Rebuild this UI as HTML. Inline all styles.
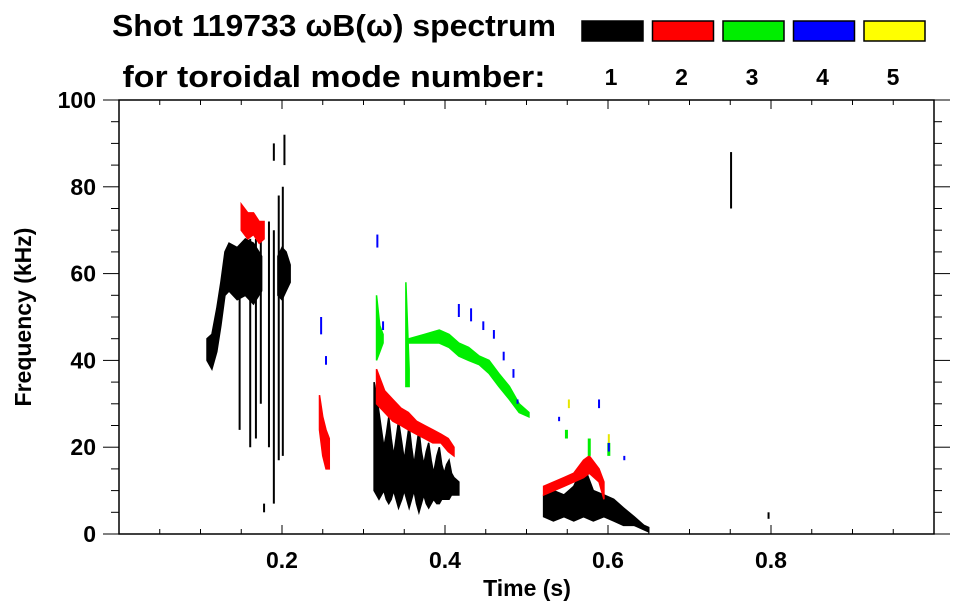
<!DOCTYPE html>
<html><head><meta charset="utf-8">
<style>
html,body{margin:0;padding:0;background:#fff;}
svg{display:block;font-family:"Liberation Sans",sans-serif;font-weight:bold;}
</style></head>
<body>
<svg id="chart" width="963" height="615" viewBox="0 0 963 615" xmlns="http://www.w3.org/2000/svg">
<text x="334" y="36" font-size="31" text-anchor="middle" textLength="444" lengthAdjust="spacingAndGlyphs">Shot 119733 ωB(ω) spectrum</text>
<text x="334" y="87" font-size="31" text-anchor="middle" textLength="423" lengthAdjust="spacingAndGlyphs">for toroidal mode number:</text>
<g id="legend"></g>
<g id="marks"></g>
<g id="axes"></g>
<text x="527" y="596" font-size="23" text-anchor="middle">Time (s)</text>
<text transform="translate(31,317) rotate(-90)" font-size="23" text-anchor="middle">Frequency (kHz)</text>
</svg>
<script>
// ---- data ----
const modeNumbers = [1,2,3,4,5];
const modeColors = ["#000000","#ff0000","#00ee00","#0000ff","#ffff00"];
const xTicks = [0.2,0.4,0.6,0.8];
const yTicks = [0,20,40,60,80,100];
// ribbons: time, low freq, high freq (null = break between clusters)
const m1T  = [0.108,0.114,0.120,0.125,0.130,0.135,0.145,0.155,0.165,0.175,null,0.195,0.200,0.205,0.210,null,
              0.313,0.316,0.319,0.322,0.325,0.328,0.331,0.334,0.337,0.340,0.343,0.347,0.350,0.353,0.356,0.359,0.362,0.365,0.368,0.371,0.374,0.377,0.380,0.383,0.386,0.390,0.393,0.396,0.399,0.402,0.405,0.408,0.411,0.417,null,
              0.521,0.533,0.546,0.558,0.570,0.582,0.595,0.607,0.619,0.632,0.644,0.650];
const m1Lo = [40,38,42,48,55,56,54,55,53,56,null,55,54,56,58,null,
              10,9,8,9,10,8,7,8,10,8,6,8,10,8,6,8,10,7,5,7,9,7,6,7,8,7,7,8,8,8,8,9,9,9,null,
              4,3,4,3,4,3,4,3,2,2,1,0.5];
const m1Hi = [45,46,52,58,65,67,66,68,67,64,null,64,66,65,62,null,
              35,32,28,24,20,23,27,22,18,22,26,21,17,21,25,20,16,20,24,19,16,19,21,17,14,18,20,16,14,16,17,14,13,12,null,
              9,10,9,11,16,10,9,8,6,4,2,1.5];
// thin streaks for mode 1
const s1T  = [0.148,0.161,0.168,0.174,0.184,0.190,0.196,0.201,0.203,0.190,0.178,0.751,0.797];
const s1Lo = [24,20,22,30,20,7,17,18,85,86,5,75,3.5];
const s1Hi = [65,68,68,72,72,70,78,80,92,90,7,88,5];
const m2T  = [0.150,0.158,0.165,0.172,0.178,null,0.246,0.250,0.254,0.258,null,
              0.316,0.326,0.336,0.346,0.355,0.365,0.375,0.385,0.395,0.404,0.411,null,
              0.521,0.546,0.558,0.570,0.577,0.589,0.595];
const m2Lo = [70,68,69,67,68,null,24,18,15,15,null,30,28,26,25,24,23,22,21,21,19,18,null,9,11,12,13,14,12,8];
const m2Hi = [76,74,74,72,72,null,32,27,24,22,null,38,33,31,29,28,26,25,24,23,22,20,null,11,13,14,17,18,15,12];
const m3T  = [0.352,0.356,null,0.316,0.320,0.324,null,0.356,0.375,0.393,0.405,0.417,0.429,0.442,0.454,0.466,0.479,0.491,0.503,null,0.549,null,0.577,null,0.601];
const m3Lo = [34,34,null,40,42,44,null,44,44,44,43,41,40,39,37,34,31,28,27,null,22,null,18,null,18];
const m3Hi = [58,38,null,55,48,46,null,45,46,47,46,44,43,41,40,37,34,30,28,null,24,null,22,null,21];
const m4T  = [0.248,0.254,0.317,0.324,0.417,0.432,0.447,0.460,0.472,0.484,0.489,0.540,0.589,0.601,0.620];
const m4Lo = [46,39,66,47,50,49,47,45,40,36,30,26,29,19,17];
const m4Hi = [50,41,69,49,53,52,49,47,42,38,31,27,31,21,18];
const m5T  = [0.552,0.601];
const m5Lo = [29,21];
const m5Hi = [31,23];

// ---- scales ----
const X0=119, X1=934, Y0=534, Y1=100;
const xs = t => X0 + (t-0)/(1.0-0)*(X1-X0);
const ys = f => Y0 - (f-0)/(100-0)*(Y0-Y1);
const NS="http://www.w3.org/2000/svg";
const marks=document.getElementById('marks');
const axes=document.getElementById('axes');
const legend=document.getElementById('legend');
function mk(tag,attrs,parent){const e=document.createElementNS(NS,tag);for(const k in attrs)e.setAttribute(k,attrs[k]);parent.appendChild(e);return e;}

function drawRibbons(T,Lo,Hi,color,mode){
  let seg=[];
  const flush=()=>{
    if(seg.length===0)return;
    if(seg.length===1){
      const i=seg[0];
      const r=mk('rect',{x:xs(T[i])-1.5,y:ys(Hi[i]),width:3,height:Math.max(1,ys(Lo[i])-ys(Hi[i])),fill:color},marks);
      
      
    } else {
      const top=seg.map(i=>xs(T[i])+','+ys(Hi[i]));
      const bot=seg.slice().reverse().map(i=>xs(T[i])+','+ys(Lo[i]));
      const p=mk('polygon',{points:top.concat(bot).join(' '),fill:color,stroke:color,'stroke-width':1.5},marks);
      
      
    }
    seg=[];
  };
  for(let i=0;i<T.length;i++){ if(T[i]===null){flush();} else seg.push(i); }
  flush();
}
function drawStreaks(T,Lo,Hi,color,mode,w){
  for(let i=0;i<T.length;i++){
    const l=mk('line',{x1:xs(T[i]),x2:xs(T[i]),y1:ys(Lo[i]),y2:ys(Hi[i]),stroke:color,'stroke-width':w},marks);
    
    
  }
}
drawRibbons(m1T,m1Lo,m1Hi,modeColors[0],1);
drawStreaks(s1T,s1Lo,s1Hi,modeColors[0],1,2);
drawRibbons(m2T,m2Lo,m2Hi,modeColors[1],2);
drawRibbons(m3T,m3Lo,m3Hi,modeColors[2],3);
drawStreaks(m4T,m4Lo,m4Hi,modeColors[3],4,2);
drawStreaks(m5T,m5Lo,m5Hi,"#e6e600",5,2);

// ---- axes ----
const frame=mk('rect',{x:X0,y:Y1,width:X1-X0,height:Y0-Y1,fill:'none',stroke:'#000','stroke-width':1.5},axes);


for(let k=1;k<20;k++){
  const t=k*0.05, x=xs(t), major=(k%4===0);
  const len=major?9:5;
  mk('line',{x1:x,x2:x,y1:Y0,y2:Y0-len,stroke:'#000','stroke-width':1},axes);
  mk('line',{x1:x,x2:x,y1:Y1,y2:Y1+len,stroke:'#000','stroke-width':1},axes);
}
for(let k=0;k<=20;k++){
  const f=k*5, y=ys(f), major=(k%4===0);
  const len=major?16:8;
  mk('line',{x1:X0-len,x2:X0,y1:y,y2:y,stroke:'#000','stroke-width':1},axes);
  mk('line',{x1:X1,x2:X1+len,y1:y,y2:y,stroke:'#000','stroke-width':1},axes);
}
xTicks.forEach(t=>{
  const tx=mk('text',{x:xs(t),y:568,'font-size':23,'text-anchor':'middle'},axes);
  tx.textContent=t.toFixed(1);
  
  
});
yTicks.forEach(f=>{
  const tx=mk('text',{x:96,y:ys(f)+8,'font-size':23,'text-anchor':'end'},axes);
  tx.textContent=String(f);
  
  
});
// ---- legend ----
modeNumbers.forEach((m,i)=>{
  const x=582+i*70.5;
  const r=mk('rect',{x:x,y:21,width:61,height:20,fill:modeColors[i],stroke:'#000','stroke-width':1.5},legend);
  
  
  const tx=mk('text',{x:x+29,y:85,'font-size':23,'text-anchor':'middle'},legend);
  tx.textContent=String(m);
  
  
});
</script>
</body></html>
